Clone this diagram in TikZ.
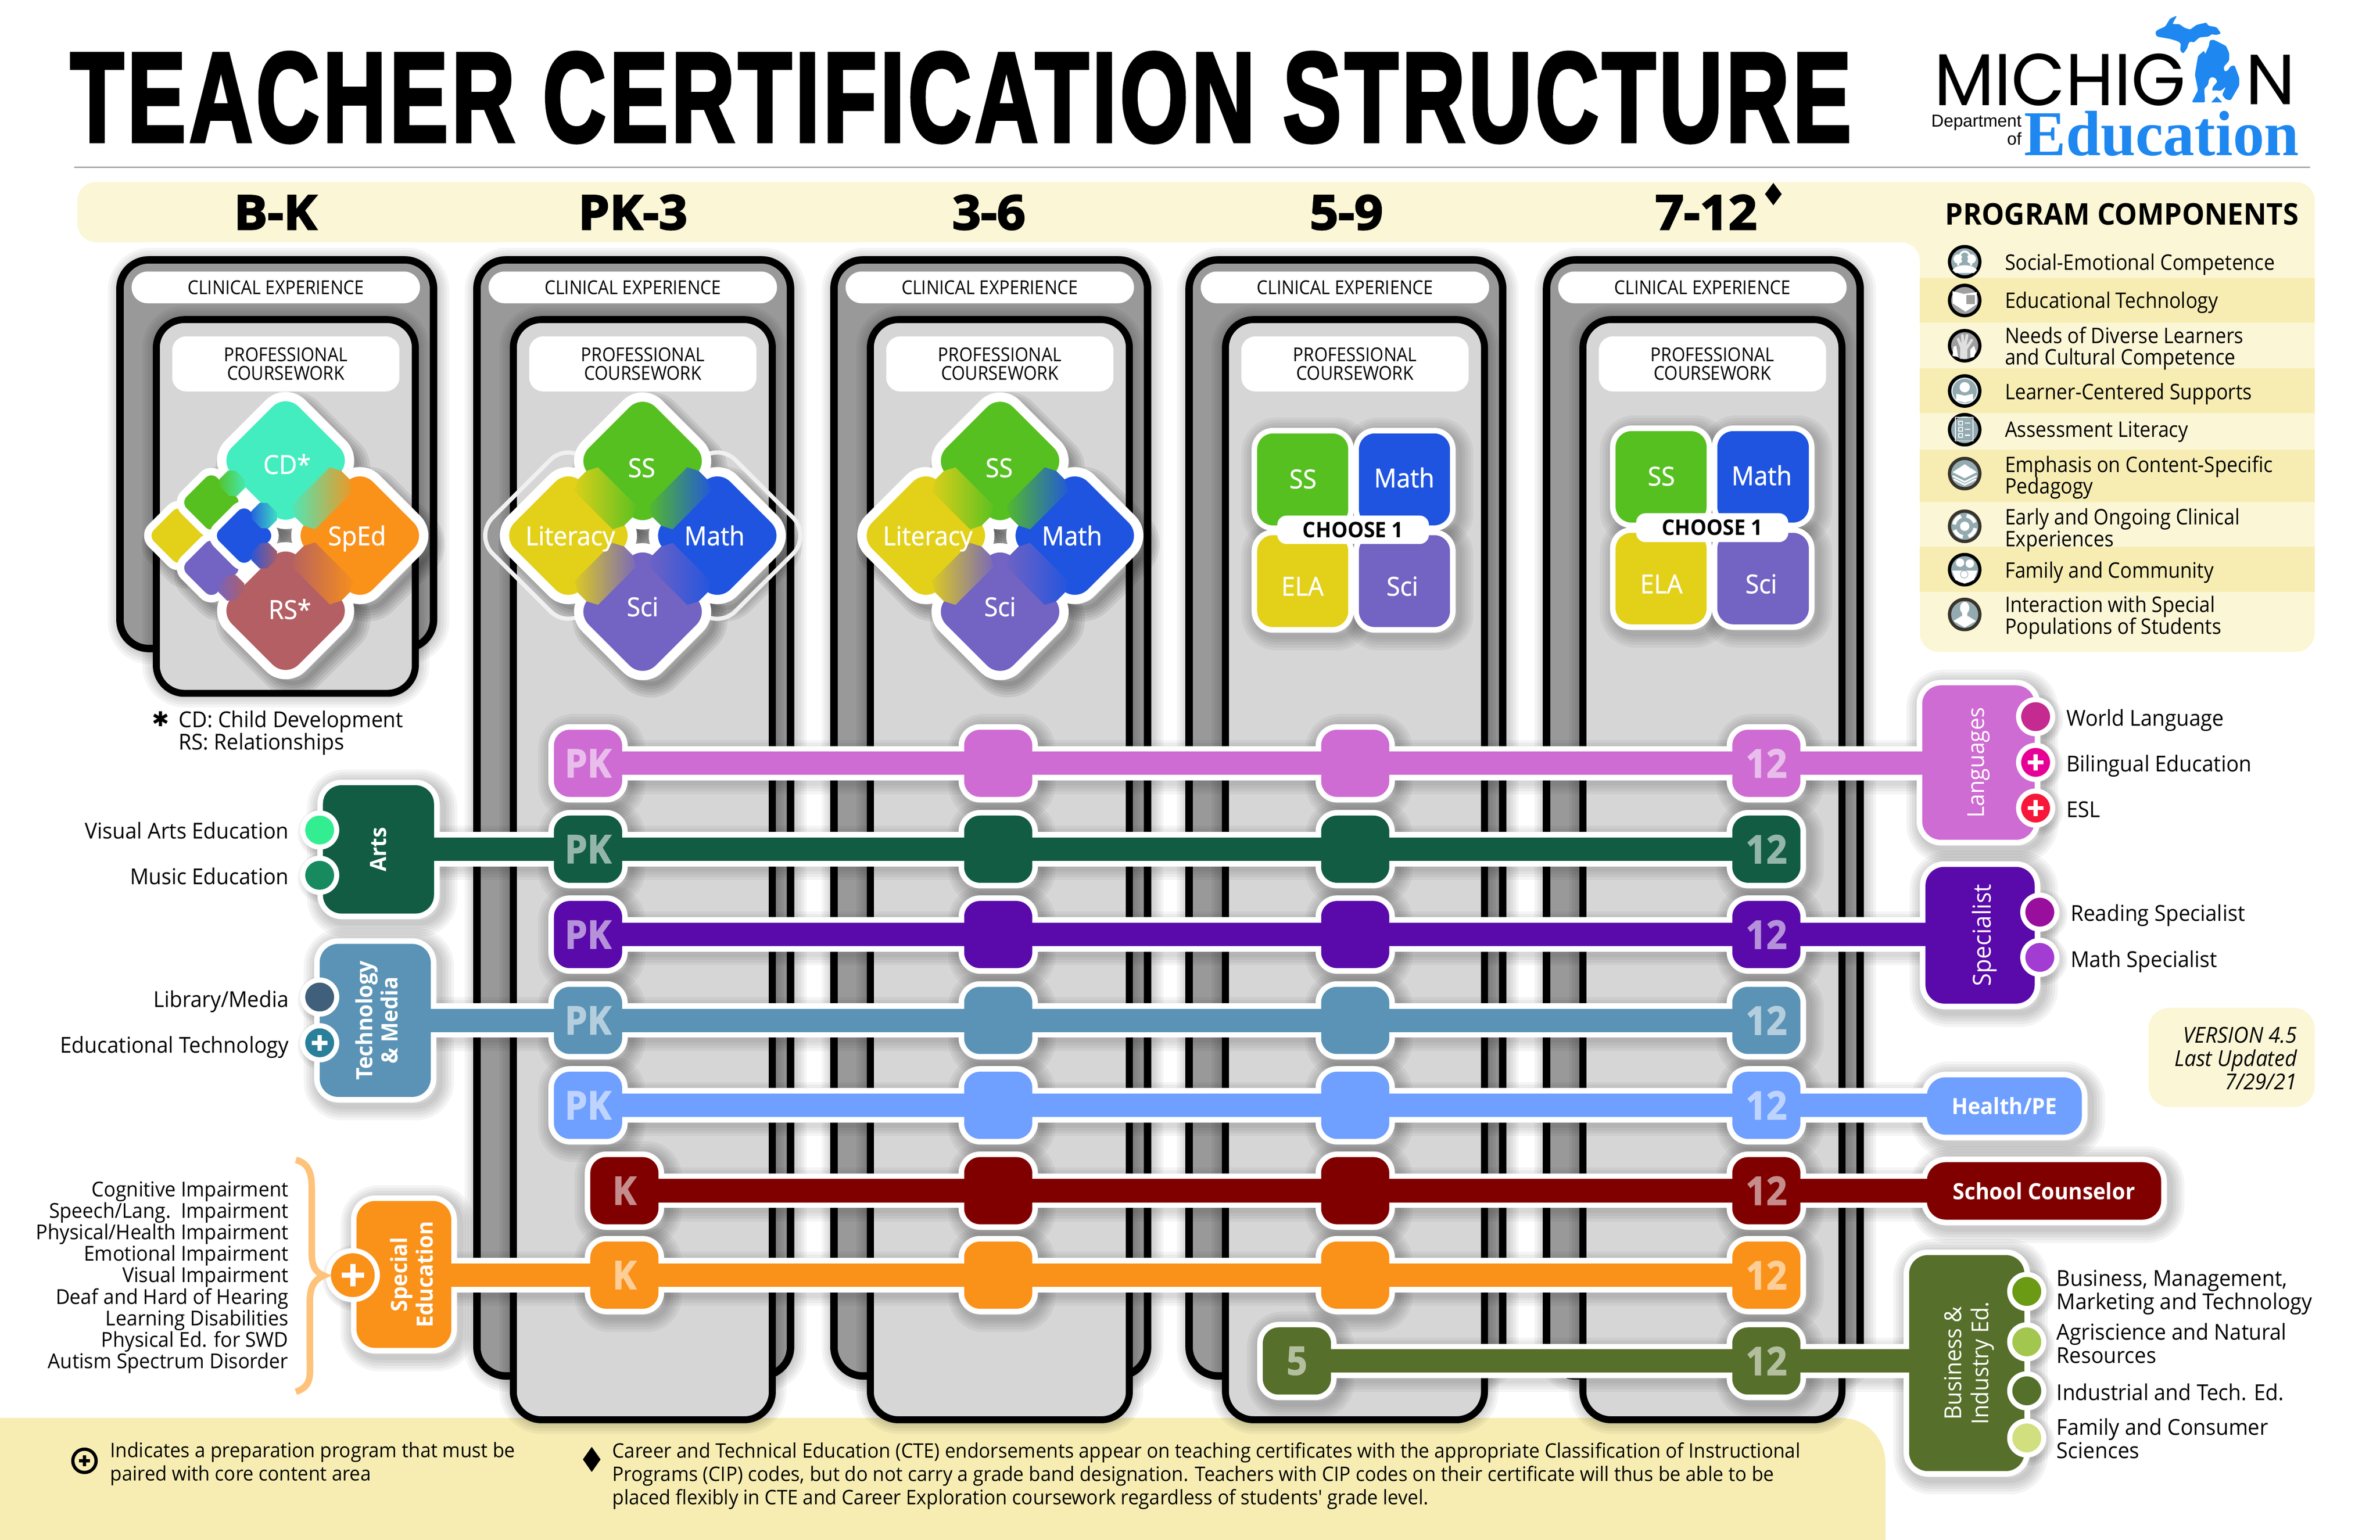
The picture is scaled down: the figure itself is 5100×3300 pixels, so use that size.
\documentclass[tikz,border=0pt]{standalone}
\usepackage{fontspec}
\usepackage{graphicx}
\usetikzlibrary{shapes.geometric}
\setmainfont{Open Sans}
\newfontfamily\bodyf[FakeStretch=.95]{Open Sans}
\newfontfamily\compf[FakeStretch=.905]{Open Sans}
\newfontfamily\dtf[FakeStretch=.95,FakeBold=1]{Open Sans}
\newfontfamily\boxf[FakeBold=2,FakeStretch=.92]{Open Sans}
\newfontfamily\headf[FakeBold=3,FakeStretch=1.05]{Open Sans}
\newfontfamily\titlef[FakeBold=3,LetterSpace=4]{Liberation Sans}
\newfontfamily\logof{Poppins}
\newfontfamily\logoserif{Liberation Serif}
\newfontfamily\logosans{Liberation Sans}
\newfontfamily\symf{DejaVu Sans}
\definecolor{bandlt}{HTML}{FBF6D5}
\definecolor{banddk}{HTML}{F7EDB3}
\definecolor{clin}{HTML}{999999}
\definecolor{prof}{HTML}{D6D6D6}
\definecolor{cteal}{HTML}{43EDC0}
\definecolor{corange}{HTML}{FA9119}
\definecolor{crs}{HTML}{B35F63}
\definecolor{cgreen}{HTML}{56C021}
\definecolor{cyellow}{HTML}{E3D019}
\definecolor{cblue}{HTML}{1F54E0}
\definecolor{cpurple}{HTML}{7363C2}
\definecolor{cpink}{HTML}{CE6CD3}
\definecolor{cdkgreen}{HTML}{115C42}
\definecolor{cviolet}{HTML}{5A0AAB}
\definecolor{csteel}{HTML}{5A93B5}
\definecolor{cltblue}{HTML}{6F9FFF}
\definecolor{cmaroon}{HTML}{800000}
\definecolor{colive}{HTML}{566F2A}
\definecolor{logoblue}{HTML}{1E88F0}
\definecolor{iconbg}{HTML}{93ABB0}
\definecolor{bracec}{HTML}{FFC27A}
\definecolor{da}{HTML}{33EE90}
\definecolor{db}{HTML}{188A60}
\definecolor{dc}{HTML}{3F5F7A}
\definecolor{dd}{HTML}{2A7F9A}
\definecolor{dw}{HTML}{C42A90}
\definecolor{dx}{HTML}{E60096}
\definecolor{dy}{HTML}{F7173A}
\definecolor{dr}{HTML}{9A0E9E}
\definecolor{dm}{HTML}{A23CD2}
\definecolor{dbm}{HTML}{6B9A14}
\definecolor{dag}{HTML}{A3C64F}
\definecolor{din}{HTML}{54702A}
\definecolor{dfa}{HTML}{D2DF7F}
\pgfdeclarelayer{base}\pgfdeclarelayer{shad}\pgfdeclarelayer{whites}\pgfdeclarelayer{bars}
\pgfsetlayers{base,shad,whites,bars,main}
\newcommand\fs[2]{\fontsize{#1}{#2}\selectfont}
% soft shadow: layer, x1,y1,x2,y2, radius, offset
\newcommand\softrect[7]{\begin{pgfonlayer}{#1}\foreach \w in {12,24,36,48,60}{\draw[black,opacity=.045,line width=\w pt,rounded corners=#6 pt] ({(#2)+(#7)},{(#3)+(#7)}) rectangle ({(#4)+(#7)},{(#5)+(#7)});}\end{pgfonlayer}}
% box given by its corners: name,x1,y1,x2,y2,style,text
\newcommand\rbox[7]{\pgfmathsetmacro\myw{(#4)-(#2)}\pgfmathsetmacro\myh{(#5)-(#3)}\pgfmathsetmacro\myx{((#2)+(#4))/2}\pgfmathsetmacro\myy{((#3)+(#5))/2}%
\node[inner sep=0pt,outer sep=0pt,align=center,minimum width=\myw pt,minimum height=\myh pt,#6] (#1) at (\myx,\myy) {#7};}
% coloured box with white border and shadow: name,x1,y1,x2,y2,colour,radius,text
\newcommand\cbox[8]{\pgfmathsetmacro\myrr{#7+12}\softrect{shad}{(#2)-12}{(#3)-12}{(#4)+12}{(#5)+12}{\myrr}{8}%
\begin{pgfonlayer}{whites}\draw[white,fill=white,line width=24pt,rounded corners=#7 pt] ({#2},{#3}) rectangle ({#4},{#5});\end{pgfonlayer}%
\rbox{#1}{#2}{#3}{#4}{#5}{fill=#6,text=white,rounded corners=#7 pt}{#8}}
% track box: name,x,y,colour,text
\newcommand\tbox[5]{\cbox{#1}{(#2)-73}{(#3)-72}{(#2)+73}{(#3)+72}{#4}{34}{\boxf\bfseries\fs{84}{84}\color{white!55!#4}#5}}
% connector between a track box and another node
\newcommand\trackbar[3]{\begin{pgfonlayer}{shad}\foreach \w in {80,92,104,116}{\draw[black,opacity=.04,line width=\w pt] ([xshift=6pt,yshift=-8pt]#2.center) -- ([xshift=6pt,yshift=-8pt]#2.center -| #3.center);}\end{pgfonlayer}%
\begin{pgfonlayer}{whites}\draw[white,line width=74pt] (#2.center) -- (#2.center -| #3.center);\end{pgfonlayer}%
\begin{pgfonlayer}{bars}\draw[#1,line width=50pt] (#2.center) -- (#2.center -| #3.center);\end{pgfonlayer}}
% rounded diamond: name,x,y,colour,side,radius,border
\newcommand\diam[7]{\begin{pgfonlayer}{shad}\foreach \w in {10,22,34,46,58}{\draw[black,opacity=.07,line width=\w pt,rounded corners=#6 pt,shift={(#2+16,#3+18)},rotate=45] (-#5/2,-#5/2) rectangle (#5/2,#5/2);}\end{pgfonlayer}%
\node[draw=white,line width=#7 pt,fill=#4,rotate=45,minimum size=#5 pt,inner sep=0pt,outer sep=0pt,rounded corners=#6 pt] (#1) at (#2,#3) {};}
% colour blend across the contact of two diamonds: x,y,angle,colA,colB,half width,half length
\newcommand\blendstrip[7]{\begin{scope}[shift={(#1,#2)},rotate=#3]\clip (-#6,-#7+12) -- (-13,-#7) -- (13,-#7) -- (#6,-#7+12) -- (#6,#7-12) -- (13,#7) -- (-13,#7) -- (-#6,#7-12) -- cycle;\shade[left color=#4,right color=#5,shading=axis,shading angle=90,draw=none] (-#6,-#7) rectangle (#6,#7);\end{scope}}
% dot on a panel: name,x,y,colour
\newcommand\dotn[4]{\begin{pgfonlayer}{shad}\foreach \w in {10,20,30}{\draw[black,opacity=.05,line width=\w pt] (#2+6,#3+6) circle[radius=38];}\end{pgfonlayer}%
\node[circle,draw=white,line width=11pt,fill=#4,minimum size=73pt,inner sep=0pt,outer sep=0pt] (#1) at (#2,#3) {};}
\newcommand\plusm[2]{\draw[white,line width=9pt] (#1-17,#2) -- (#1+17,#2) (#1,#2-17) -- (#1,#2+17);}
\newcommand\rottwo[2]{\rotatebox{90}{\begin{tabular}{@{}c@{}}#1\\#2\end{tabular}}}
\newcommand\iconb[4]{\node[circle,draw=#4,line width=7pt,fill=#3,minimum size=65pt,inner sep=0pt,outer sep=0pt] (#1) at (4210,#2) {};}
\tikzset{
 lab/.style={inner sep=0pt,font=\bodyf\fs{47}{50}},
 labl/.style={lab,anchor=mid west,yshift=-15pt},
 labr/.style={lab,anchor=mid east,yshift=-15pt},
 head/.style={inner sep=0pt,anchor=mid,yshift=-33pt,font=\headf\bfseries\fs{102}{102}},
 dtext/.style={inner sep=0pt,anchor=mid,yshift=-18pt,text=white,font=\dtf\fs{56}{56}},
 comp/.style={inner sep=0pt,anchor=west,align=left,font=\compf\fs{46}{46}},
 foot/.style={inner sep=0pt,anchor=north west,align=left,font=\bodyf\fs{43}{50}},
 collab/.style={fill=white,text=black,font=\compf\fs{41}{40}},
 icn/.style={white,line cap=round,line join=round},
}
\begin{document}
\begin{tikzpicture}[x=1pt,y=-1pt]
\useasboundingbox (0,0) rectangle (5100,3300);
\begin{pgfonlayer}{base}
\fill[white] (0,0) rectangle (5100,3300);
\fill[bandlt,rounded corners=40pt] (166,390) -- (4960,390) -- (4960,1397) -- (4114,1397) -- (4114,519) -- (166,519) -- cycle;
\fill[banddk] (4114,596) rectangle (4960,692);
\fill[banddk] (4114,789) rectangle (4960,885);
\fill[banddk] (4114,964) rectangle (4960,1076);
\fill[banddk] (4114,1172) rectangle (4960,1269);
\fill[banddk] (-10,3310) -- (-10,3039) [rounded corners=95pt] -- (4040,3039) [sharp corners] -- (4040,3310) -- cycle;
\draw[gray!70,line width=3pt] (159,359) -- (4950,359);
\fill[bandlt,rounded corners=45pt] (4604,2160) rectangle (4960,2373);
\end{pgfonlayer}
% title and logo
\node[inner sep=0pt] (title) at (2059,209) {\resizebox{3812pt}{190pt}{\titlef\bfseries TEACHER CERTIFICATION STRUCTURE}};
\node[inner sep=0pt] (logoa) at (4414,171) {\resizebox{539pt}{111pt}{\logof MICHIG}};
\node[inner sep=0pt] (logob) at (4865,171) {\resizebox{107pt}{106pt}{\logof N}};
\node[inner sep=0pt] (logoc) at (4632,286) {\resizebox{589pt}{95pt}{\logoserif\bfseries\color{logoblue}Education}};
\node[inner sep=0pt,anchor=base east,font=\logosans\fs{37}{37}] (logod) at (4332,272) {Department};
\node[inner sep=0pt,anchor=base east,font=\logosans\fs{37}{37}] (logoe) at (4332,311) {of};
\begin{scope}[shift={(4550,20)},x=.3333pt,y=-.3333pt]
\fill[logoblue,rounded corners=3pt] (205,150) -- (215,135) -- (270,110) -- (300,60) -- (345,40) -- (315,95) -- (360,95) -- (395,120) -- (430,130) -- (470,100) -- (535,85) -- (545,105) -- (600,115) -- (628,155) -- (600,165) -- (565,160) -- (550,175) -- (490,180) -- (450,215) -- (435,205) -- (420,215) -- (410,250) -- (385,285) -- (365,265) -- (370,220) -- (350,205) -- (300,190) -- (215,175) -- cycle;
\fill[logoblue,rounded corners=3pt] (555,200) -- (580,195) -- (660,235) -- (680,280) -- (680,330) -- (645,370) -- (650,400) -- (670,395) -- (690,365) -- (715,360) -- (745,440) -- (745,490) -- (690,585) -- (660,580) -- (635,550) -- (660,497) -- (625,525) -- (590,520) -- (570,525) -- (575,500) -- (605,465) -- (590,440) -- (565,435) -- (550,450) -- (545,485) -- (520,510) -- (525,598) -- (440,598) -- (480,520) -- (460,420) -- (480,300) -- (520,265) -- (525,290) -- (550,235) -- cycle;
\fill[logoblue] (565,598) -- (600,560) -- (635,598) -- cycle;
\end{scope}
% header labels
\node[head] (hb) at (590,456) {B-K};
\node[head] (hp) at (1356,456) {PK-3};
\node[head] (hth) at (2119,456) {3-6};
\node[head] (hfi) at (2885,456) {5-9};
\node[head] (hse) at (3656,456) {7-12};
\node[diamond,fill=black,minimum width=36pt,minimum height=48pt,inner sep=0pt] (hdia) at (3800,416) {};
% columns
\begin{pgfonlayer}{base}
\foreach \i/\L/\cb/\pb in {1/249/1398/1494,2/1014/2957/3051,3/1779/2957/3051,4/2540/2957/3051,5/3306/2957/3051}{
 \softrect{base}{\L+8}{557}{\L+680}{\cb-8}{62}{4}
 \rbox{clinb\i}{\L+8}{557}{\L+680}{\cb-8}{draw=black,line width=16pt,fill=clin,rounded corners=62pt}{}
 \rbox{clinl\i}{\L+33}{582}{\L+651}{650}{collab,rounded corners=34pt}{CLINICAL EXPERIENCE}
 \softrect{base}{\L+86}{685}{\L+641}{\pb-8}{60}{0}
 \rbox{profb\i}{\L+86}{685}{\L+641}{\pb-8}{draw=black,line width=15pt,fill=prof,rounded corners=60pt}{}
 \rbox{profl\i}{\L+120}{721}{\L+607}{839}{collab,rounded corners=30pt}{PROFESSIONAL\\COURSEWORK}
}
\end{pgfonlayer}
% diamonds, column 1
\node[fill=white,rotate=45,minimum size=46pt,inner sep=0pt] (wa) at (529,1066) {};
\node[fill=white,rotate=45,minimum size=46pt,inner sep=0pt] (wb) at (529,1229) {};
\diam{cyel}{383}{1148}{cyellow}{109}{26}{16}
\diam{cgre}{453}{1077}{cgreen}{109}{26}{16}
\diam{cpur}{453}{1217}{cpurple}{109}{26}{16}
\diam{cblu}{523}{1148}{cblue}{109}{26}{16}
\diam{ccd}{612}{987}{cteal}{223}{50}{20}
\diam{csp}{771}{1148}{corange}{223}{50}{20}
\diam{crsd}{612}{1309}{crs}{223}{50}{20}
\blendstrip{691}{1068}{-45}{cteal}{corange}{36}{70}
\blendstrip{691}{1229}{45}{crs}{corange}{36}{70}
\blendstrip{498}{1036}{45}{cgreen}{cteal}{24}{26}
\blendstrip{566}{1105}{45}{cblue}{cteal}{24}{26}
\blendstrip{496}{1260}{-45}{cpurple}{crs}{24}{26}
\blendstrip{566}{1191}{-45}{cblue}{crs}{24}{26}
\node[dtext] (tcd) at (615,995) {CD*};
\node[dtext] (tsp) at (765,1148) {SpEd};
\node[dtext] (trs) at (621,1306) {RS*};
\node[inner sep=0pt,font=\symf\fs{44}{44}] (tast) at (344,1541) {✱};
\node[labl] (tleg1) at (383,1541) {CD: Child Development};
\node[labl] (tleg2) at (383,1589) {RS: Relationships};
% diamonds, column 2
\draw[white!94!black,line width=9pt,rounded corners=55pt] (1270,1000) -- (1218,947) -- (1017,1148) -- (1218,1349) -- (1270,1297);
\draw[white!94!black,line width=9pt,rounded corners=55pt] (1484,1000) -- (1537,947) -- (1738,1148) -- (1537,1349) -- (1484,1297);
\foreach \n/\cx in {b/1377,c/2143}{
 \diam{lit\n}{\cx-159}{1148}{cyellow}{223}{50}{20}
 \diam{mat\n}{\cx+160}{1148}{cblue}{223}{50}{20}
 \diam{sci\n}{\cx}{1311}{cpurple}{223}{50}{20}
 \diam{ssd\n}{\cx}{988}{cgreen}{223}{50}{20}
 \blendstrip{\cx-80}{1068}{45}{cyellow}{cgreen}{36}{70}
 \blendstrip{\cx+80}{1068}{-45}{cgreen}{cblue}{36}{70}
 \blendstrip{\cx-80}{1230}{-45}{cyellow}{cpurple}{36}{70}
 \blendstrip{\cx+80}{1230}{45}{cpurple}{cblue}{36}{70}
 \node[dtext] (tlit\n) at (\cx-155,1148) {Literacy};
 \node[dtext] (tmat\n) at (\cx+154,1148) {Math};
 \node[dtext] (tsci\n) at (\cx,1300) {Sci};
 \node[dtext] (tss\n) at (\cx-2,1002) {SS};
}
% quadrants, columns 4 and 5
\cbox{qa}{2694}{929}{2889}{1126}{cgreen}{34}{}
\cbox{qb}{2912}{929}{3107}{1126}{cblue}{34}{}
\cbox{qc}{2694}{1147}{2889}{1344}{cyellow}{34}{}
\cbox{qd}{2912}{1147}{3107}{1344}{cpurple}{34}{}
\node[dtext] (tqa) at (2792,1026) {SS};
\node[dtext] (tqb) at (3009,1024) {Math};
\node[dtext] (tqc) at (2791,1256) {ELA};
\node[dtext] (tqd) at (3005,1256) {Sci};
\rbox{qe}{2737}{1105}{3062}{1166}{fill=white,rounded corners=20pt,font=\bodyf\bfseries\fs{46}{46}}{CHOOSE 1}
\cbox{ra}{3462}{924}{3657}{1120}{cgreen}{34}{}
\cbox{rb}{3680}{924}{3876}{1120}{cblue}{34}{}
\cbox{rc}{3462}{1142}{3657}{1338}{cyellow}{34}{}
\cbox{rd}{3680}{1142}{3876}{1338}{cpurple}{34}{}
\node[dtext] (tra) at (3560,1020) {SS};
\node[dtext] (trb) at (3775,1019) {Math};
\node[dtext] (trc) at (3560,1251) {ELA};
\node[dtext] (trd) at (3774,1251) {Sci};
\rbox{re}{3506}{1100}{3832}{1162}{fill=white,rounded corners=20pt,font=\bodyf\bfseries\fs{46}{46}}{CHOOSE 1}
% track boxes
\foreach \n/\ly/\col/\lx/\lt in {a/1636/cpink/1260/PK,b/1820/cdkgreen/1260/PK,c/2003/cviolet/1260/PK,d/2187/csteel/1260/PK,e/2369/cltblue/1260/PK,f/2552/cmaroon/1338/K,g/2733/corange/1338/K}{
 \tbox{tl\n}{\lx}{\ly}{\col}{\lt}
 \tbox{tm\n}{2139}{\ly}{\col}{}
 \tbox{tp\n}{2904}{\ly}{\col}{}
 \tbox{tt\n}{3785}{\ly}{\col}{12}
}
\tbox{tlh}{2779}{2917}{colive}{5}
\tbox{tth}{3785}{2917}{colive}{12}
% left panels
\cbox{arts}{692}{1683}{930}{1958}{cdkgreen}{40}{\rotatebox{90}{\bodyf\bfseries\fs{48}{52}Arts}}
\dotn{dota}{685}{1779}{da}
\dotn{dotb}{685}{1876}{db}
\node[labr] (ta) at (619,1780) {Visual Arts Education};
\node[labr] (tb) at (619,1878) {Music Education};
\cbox{tech}{685}{2023}{923}{2351}{csteel}{40}{\hspace*{20pt}\bodyf\bfseries\fs{48}{54}\rottwo{Technology}{\& Media}}
\dotn{dotc}{685}{2137}{dc}
\dotn{dotd}{685}{2235}{dd}
\plusm{685}{2235}
\node[labr] (tc) at (619,2141) {Library/Media};
\node[labr] (td) at (619,2239) {Educational Technology};
\cbox{sped}{764}{2574}{967}{2889}{corange}{40}{\hspace*{48pt}\bodyf\bfseries\fs{48}{55}\rottwo{Special}{Education}}
\begin{pgfonlayer}{shad}\foreach \w in {10,20,30}{\draw[black,opacity=.05,line width=\w pt] (762,2739) circle[radius=56];}\end{pgfonlayer}
\node[circle,draw=white,line width=11pt,fill=corange,minimum size=105pt,inner sep=0pt,outer sep=0pt] (dote) at (756,2733) {};
\draw[white,line width=11pt] (732,2733) -- (780,2733) (756,2709) -- (756,2757);
\draw[bracec,line width=14pt] (634,2486) .. controls (670,2495) and (668,2530) .. (668,2560) -- (668,2680) .. controls (668,2710) and (672,2725) .. (694,2734) .. controls (672,2743) and (664,2760) .. (664,2790) -- (664,2900) .. controls (664,2950) and (670,2970) .. (634,2983);
\node[inner sep=0pt,anchor=east,align=right,font=\bodyf\fs{44}{46}] (tlist) at (618,2738) {Cognitive Impairment\\Speech/Lang.\ \ Impairment\\Physical/Health Impairment\\Emotional Impairment\\Visual Impairment\\Deaf and Hard of Hearing\\Learning Disabilities\\Physical Ed. for SWD\\Autism Spectrum Disorder};
% right panels
\cbox{lang}{4119}{1469}{4360}{1800}{cpink}{40}{\rotatebox{90}{\bodyf\fs{50}{52}Languages}}
\dotn{dotw}{4362}{1536}{dw}
\dotn{dotx}{4362}{1634}{dx}
\plusm{4362}{1634}
\dotn{doty}{4362}{1732}{dy}
\plusm{4362}{1732}
\node[labl] (tw) at (4428,1538) {World Language};
\node[labl] (tx) at (4428,1636) {Bilingual Education};
\node[labl] (ty) at (4428,1734) {ESL};
\cbox{spec}{4126}{1858}{4360}{2151}{cviolet}{40}{\hspace*{18pt}\rotatebox{90}{\bodyf\fs{53}{52}Specialist}}
\dotn{dotr}{4371}{1955}{dr}
\dotn{dotm}{4371}{2052}{dm}
\node[labl] (tr) at (4437,1957) {Reading Specialist};
\node[labl] (tm) at (4437,2055) {Math Specialist};
\cbox{hpe}{4129}{2309}{4461}{2432}{cltblue}{40}{\bodyf\bfseries\fs{48}{48}Health/PE}
\cbox{sc}{4129}{2491}{4631}{2614}{cmaroon}{40}{\bodyf\bfseries\fs{48}{48}School Counselor}
\cbox{bi}{4091}{2690}{4338}{3153}{colive}{40}{\hspace*{12pt}\bodyf\fs{50}{58}\rottwo{Business \&}{Industry Ed.}}
\dotn{dotbm}{4343}{2768}{dbm}
\dotn{dotag}{4343}{2876}{dag}
\dotn{dotin}{4343}{2981}{din}
\dotn{dotfa}{4343}{3082}{dfa}
\node[lab,anchor=west,align=left] (tbm) at (4407,2770) {Business, Management,\\Marketing and Technology};
\node[lab,anchor=west,align=left] (tag) at (4407,2879) {Agriscience and Natural\\Resources};
\node[labl] (tin) at (4407,2984) {Industrial and Tech. Ed.};
\node[lab,anchor=west,align=left] (tfa) at (4407,3083) {Family and Consumer\\Sciences};
% connectors
\trackbar{cpink}{tla}{lang}
\trackbar{cdkgreen}{ttb}{arts}
\trackbar{cviolet}{tlc}{spec}
\trackbar{csteel}{ttd}{tech}
\trackbar{cltblue}{tle}{hpe}
\trackbar{cmaroon}{tlf}{sc}
\trackbar{corange}{ttg}{sped}
\trackbar{colive}{tlh}{bi}
% version note
\node[inner sep=0pt,anchor=east,align=right,font=\bodyf\itshape\fs{47}{50}] (tver) at (4922,2268) {VERSION 4.5\\Last Updated\\7/29/21};
% program components
\node[inner sep=0pt,font=\bodyf\bfseries\fs{64}{64}] (tpc) at (4547,459) {PROGRAM COMPONENTS};
\iconb{ia}{561}{iconbg}{black}
\iconb{ib}{644}{gray!75}{black}
\iconb{ic}{741}{gray!75}{black}
\iconb{id}{838}{iconbg}{black}
\iconb{ie}{921}{iconbg}{black}
\iconb{if}{1015}{iconbg}{black!80!olive}
\iconb{ig}{1128}{iconbg}{black!80!olive}
\iconb{ih}{1221}{iconbg}{black}
\iconb{ii}{1317}{iconbg}{black!80!olive}
% icon glyphs
\begin{scope}[shift={(4210,561)}]
\fill[white] (-14,-6) circle[radius=10] (14,-6) circle[radius=10];
\fill[white] (-26,18) .. controls (-18,4) and (18,4) .. (26,18) -- (20,24) -- (-20,24) -- cycle;
\draw[white,line width=4pt] (-14,8) .. controls (-14,-4) and (-12,-22) .. (0,-22) .. controls (12,-22) and (14,-4) .. (14,8);
\fill[iconbg] (0,-6) circle[radius=7];
\end{scope}
\begin{scope}[shift={(4210,644)}]
\fill[white] (-26,-20) -- (-2,-14) -- (26,-18) -- (26,8) -- (2,24) -- (-26,6) -- cycle;
\fill[gray!75] (4,-12) rectangle (22,8);
\end{scope}
\begin{scope}[shift={(4210,741)}]
\draw[icn,gray!25,line width=6pt] (-2,14) -- (-14,-14) (-2,14) -- (-5,-22) (-2,14) -- (5,-22) (-2,14) -- (15,-12);
\fill[gray!25] (-10,0) rectangle (6,28);
\fill[white] (12,26) -- (12,8) -- (20,0) -- (24,12) -- (20,24) -- cycle;
\fill[white] (-26,22) -- (-24,2) -- (-18,0) -- (-14,24) -- cycle;
\end{scope}
\begin{scope}[shift={(4210,838)}]
\draw[white,line width=1.5pt] (0,0) circle[radius=27];
\fill[white] (0,-8) circle[radius=11];
\fill[white] (-18,6) -- (0,10) -- (18,6) -- (18,20) -- (0,25) -- (-18,20) -- cycle;
\end{scope}
\begin{scope}[shift={(4210,921)}]
\draw[white,line width=2pt] (-20,-26) rectangle (18,24);
\foreach \yy in {-14,-1,12}{\draw[white,line width=2pt] (-13,\yy-4) rectangle (-5,\yy+4);\draw[white,line width=2.5pt] (0,\yy) -- (12,\yy);}
\end{scope}
\begin{scope}[shift={(4210,1015)}]
\fill[white] (-26,-3) -- (0,-20) -- (26,-3) -- (0,10) -- cycle;
\draw[white,line width=3.5pt] (-26,5) -- (0,18) -- (26,5) (-24,12) -- (0,24) -- (24,12);
\end{scope}
\begin{scope}[shift={(4210,1128)}]
\fill[white] (0,0) circle[radius=10];
\foreach \angA in {10,100,190,280}{\draw[white,line width=8pt] (\angA:23) arc[start angle=\angA,end angle=\angA+60,radius=23];}
\end{scope}
\begin{scope}[shift={(4210,1221)}]
\fill[white] (-10,-15) circle[radius=9] (11,-13) circle[radius=9];
\fill[white] (-27,2) -- (27,2) -- (20,22) -- (0,30) -- (-20,22) -- cycle;
\draw[iconbg,line width=1.2pt] (-1,10) circle[radius=8];
\end{scope}
\begin{scope}[shift={(4210,1317)}]
\fill[white] (0,-14) ellipse[x radius=10,y radius=13];
\fill[white] (-6,-4) rectangle (6,6);
\fill[white] (-24,14) -- (-8,4) -- (8,4) -- (24,14) -- (0,28) -- cycle;
\end{scope}
\foreach \nm/\yy/\tx in {ca/567/Social-Emotional Competence,cb/649/Educational Technology,cc/747/Needs of Diverse Learners\\and Cultural Competence,cd/844/Learner-Centered Supports,ce/926/Assessment Literacy,cf/1023/Emphasis on Content-Specific\\Pedagogy,cg/1136/Early and Ongoing Clinical\\Experiences,ch/1227/Family and Community,ci/1324/Interaction with Special\\Populations of Students}{
 \node[comp] (\nm) at (4296,\yy) {\tx};
}
% footer
\node[draw=black,circle,line width=7pt,minimum size=50pt,inner sep=0pt] (fplus) at (181,3131) {};
\draw[black,line width=7pt] (181-12,3131) -- (181+12,3131) (181,3131-12) -- (181,3131+12);
\node[foot] (ftxt) at (236,3091) {Indicates a preparation program that must be\\paired with core content area};
\node[diamond,fill=black,minimum width=38pt,minimum height=54pt,inner sep=0pt] (fdia) at (1268,3128) {};
\node[foot] (ftxb) at (1312,3092) {Career and Technical Education (CTE) endorsements appear on teaching certificates with the appropriate Classification of Instructional\\Programs (CIP) codes, but do not carry a grade band designation. Teachers with CIP codes on their certificate will thus be able to be\\placed flexibly in CTE and Career Exploration coursework regardless of students' grade level.};
\end{tikzpicture}
\end{document}
